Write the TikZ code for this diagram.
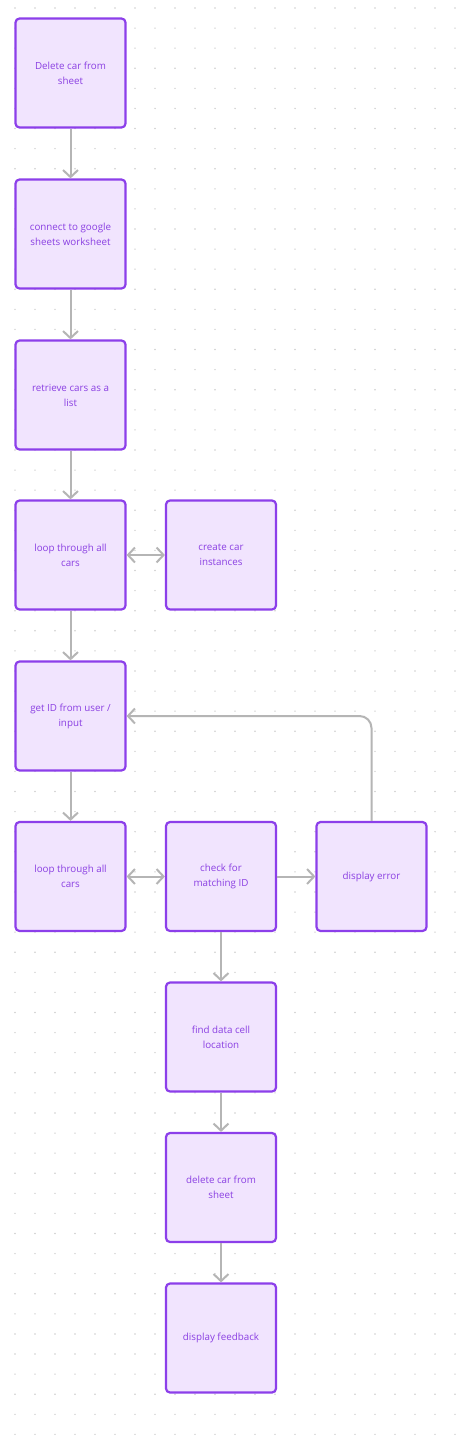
\documentclass[tikz,border=0pt]{standalone}
\usepackage{fontspec}
\setmainfont{Open Sans}
\usepackage{tikz}
\usetikzlibrary{arrows.meta}

\definecolor{boxfill}{HTML}{F1E4FE}
\definecolor{boxline}{HTML}{8C3FEA}
\definecolor{boxtext}{HTML}{8A3FE2}
\definecolor{arrowgray}{HTML}{B5B5B5}
\definecolor{dotgray}{HTML}{CFCFCF}

\tikzset{
  stepbox/.style={draw=boxline, fill=boxfill, line width=2.2, rounded corners=4,
    minimum width=110, minimum height=109, inner sep=0, align=center,
    text=boxtext, font=\fontsize{9.8}{15}\selectfont},
  flow/.style={draw=arrowgray, line width=2, -{Straight Barb[length=7,width=15,line width=2]}},
  twoway/.style={flow, {Straight Barb[length=7,width=15,line width=2]}-{Straight Barb[length=7,width=15,line width=2]}}
}

\begin{document}
\begin{tikzpicture}[x=1pt, y=-1pt]
\useasboundingbox (0,0) rectangle (465,1437);
\fill[white] (0,0) rectangle (465,1437);
%dot grid
\foreach \i in {0,...,22}
  \foreach \j in {0,...,71}
    \fill[dotgray] (15+20*\i, 8+20.09*\j) circle (0.8);
%left column
\node[stepbox] (del) at (70.5, 73) {Delete car from\\sheet};
\node[stepbox] (conn) at (70.5, 234) {connect to google\\sheets worksheet};
\node[stepbox] (retr) at (70.5, 395) {retrieve cars as a\\list};
\node[stepbox] (loopa) at (70.5, 555) {loop through all\\cars};
\node[stepbox] (getid) at (70.5, 716) {get ID from user /\\input};
\node[stepbox] (loopb) at (70.5, 876.5) {loop through all\\cars};
%middle column
\node[stepbox] (inst) at (221, 555) {create car\\instances};
\node[stepbox] (check) at (221, 876.5) {check for\\matching ID};
\node[stepbox] (find) at (221, 1037) {find data cell\\location};
\node[stepbox] (delb) at (221, 1187.5) {delete car from\\sheet};
\node[stepbox] (feed) at (221, 1338) {display feedback};
%right column
\node[stepbox] (err) at (371.5, 876.5) {display error};
%arrows
\draw[flow] (del) -- (conn);
\draw[flow] (conn) -- (retr);
\draw[flow] (retr) -- (loopa);
\draw[flow] (loopa) -- (getid);
\draw[flow] (getid) -- (loopb);
\draw[twoway] (loopa) -- (inst);
\draw[twoway] (loopb) -- (check);
\draw[flow] (check) -- (err);
\draw[flow] (check) -- (find);
\draw[flow] (find) -- (delb);
\draw[flow] (delb) -- (feed);
\draw[flow, rounded corners=12] (err.north) |- (getid.east);
\end{tikzpicture}
\end{document}
